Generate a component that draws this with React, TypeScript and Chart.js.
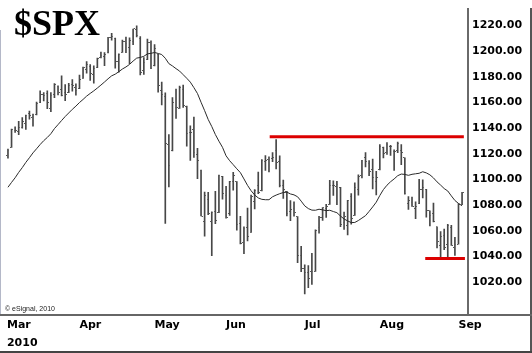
import { useEffect, useRef } from 'react';
import { Chart, registerables } from 'chart.js';

Chart.register(...registerables);

// Trading days Mar 4 2010 .. Sep 2 2010 (index 0..127)
const OPEN = [
  1119.1, 1125.1, 1138.4, 1137.6, 1140.2, 1144.0, 1151.7, 1148.5, 1150.8, 1159.9, 1166.1, 1166.7, 1155.4, 1166.5, 1172.7, 1170.0, 1167.6, 1167.7, 1173.8, 1171.8,
  1171.2, 1178.7, 1186.0, 1188.2, 1181.8, 1187.5, 1194.9, 1195.9, 1198.7, 1210.8, 1210.2, 1192.1, 1199.0, 1207.2, 1202.5, 1207.9, 1217.1, 1209.9, 1184.6, 1193.3, 1206.8,
  1188.6, 1197.5, 1169.2, 1164.4, 1127.0, 1122.3, 1156.4, 1155.4, 1170.0, 1157.2, 1136.5, 1138.8, 1119.6, 1107.3, 1067.3, 1084.8, 1067.4, 1075.5, 1074.3, 1102.6,
  1087.3, 1073.9, 1098.8, 1098.4, 1065.8, 1050.8, 1062.8, 1058.8, 1082.7, 1095.0, 1091.2, 1114.0, 1116.0, 1116.2, 1122.8, 1113.9, 1095.6, 1090.9, 1075.1, 1077.5, 1071.1, 1040.6,
  1031.1, 1027.7, 1028.1, 1028.5, 1062.9, 1070.5, 1077.2, 1080.7, 1095.6, 1094.5, 1093.9, 1066.9, 1064.5, 1086.7, 1072.1, 1092.2, 1102.9, 1117.4, 1112.8, 1108.1, 1098.4,
  1107.5, 1125.3, 1121.1, 1125.8, 1122.1, 1122.8, 1122.9, 1116.9, 1081.5, 1082.2, 1077.5, 1081.2, 1092.1, 1092.4, 1075.6, 1073.4, 1063.2, 1049.0, 1056.3, 1049.3, 1062.9, 1046.9,
  1049.7, 1080.7,
];
const HIGH = [
  1123.7, 1139.4, 1141.1, 1145.4, 1148.3, 1150.2, 1153.4, 1151.0, 1160.3, 1169.2, 1167.8, 1169.2, 1167.8, 1174.7, 1173.0, 1180.7, 1173.9, 1174.9, 1177.8, 1174.6,
  1181.4, 1187.7, 1191.8, 1189.6, 1188.6, 1194.7, 1199.2, 1199.0, 1210.7, 1213.9, 1210.2, 1197.9, 1208.6, 1211.0, 1210.3, 1217.3, 1219.8, 1211.4, 1195.1, 1209.4, 1208.0,
  1205.1, 1197.5, 1176.0, 1167.6, 1135.1, 1163.9, 1170.5, 1172.9, 1173.6, 1157.2, 1141.9, 1148.7, 1124.3, 1107.3, 1090.2, 1090.0, 1074.8, 1090.8, 1103.5, 1102.6,
  1094.8, 1098.6, 1105.7, 1098.4, 1071.4, 1063.2, 1077.7, 1087.9, 1092.3, 1105.9, 1115.6, 1118.7, 1117.7, 1121.0, 1131.2, 1118.5, 1099.6, 1090.9, 1083.6, 1082.6, 1071.1, 1048.1,
  1033.6, 1033.0, 1042.5, 1060.9, 1071.3, 1078.2, 1080.8, 1099.5, 1099.1, 1098.7, 1093.9, 1074.7, 1083.9, 1089.0, 1097.5, 1103.7, 1115.0, 1121.0, 1114.7, 1115.9, 1106.4,
  1127.3, 1125.4, 1128.8, 1126.6, 1123.1, 1129.2, 1127.2, 1116.9, 1086.7, 1086.3, 1082.6, 1100.1, 1099.8, 1092.4, 1075.6, 1081.6, 1063.2, 1059.4, 1061.5, 1065.2, 1064.4, 1055.1,
  1081.3, 1090.1,
];
const LOW = [
  1116.7, 1125.1, 1136.8, 1134.9, 1140.1, 1139.0, 1147.0, 1141.5, 1150.4, 1159.9, 1161.2, 1155.3, 1152.9, 1163.8, 1166.0, 1165.1, 1161.5, 1167.7, 1168.9, 1165.8,
  1170.7, 1178.7, 1182.8, 1177.3, 1175.1, 1187.2, 1194.7, 1188.8, 1198.7, 1208.5, 1186.8, 1183.7, 1199.0, 1198.9, 1190.2, 1205.1, 1211.1, 1181.6, 1181.8, 1193.3, 1186.3,
  1188.6, 1168.1, 1158.2, 1065.8, 1094.2, 1122.3, 1147.7, 1155.4, 1156.1, 1126.1, 1115.0, 1117.2, 1100.7, 1071.6, 1055.9, 1072.7, 1040.8, 1065.6, 1074.3, 1084.8,
  1069.9, 1072.0, 1091.8, 1060.5, 1049.9, 1042.2, 1052.3, 1058.8, 1077.1, 1089.0, 1091.2, 1107.1, 1105.9, 1113.9, 1108.2, 1094.2, 1085.3, 1071.6, 1067.9, 1071.5, 1035.2, 1028.3,
  1010.9, 1015.9, 1018.4, 1028.5, 1058.2, 1068.1, 1070.5, 1080.7, 1087.7, 1080.5, 1063.3, 1061.1, 1056.9, 1065.3, 1072.1, 1087.9, 1101.3, 1109.8, 1103.1, 1092.8, 1088.0,
  1107.5, 1116.8, 1119.5, 1118.8, 1107.2, 1120.9, 1111.6, 1088.6, 1076.7, 1079.0, 1069.5, 1081.2, 1085.8, 1070.7, 1063.9, 1067.1, 1046.7, 1039.8, 1045.4, 1039.7, 1048.8, 1040.9,
  1049.7, 1080.4,
];
const CLOSE = [
  1123.0, 1138.7, 1138.5, 1140.5, 1145.6, 1150.2, 1150.0, 1150.5, 1159.5, 1166.2, 1165.8, 1159.9, 1165.8, 1174.2, 1167.7, 1165.7, 1166.6, 1173.2, 1173.3, 1169.4,
  1178.1, 1187.4, 1189.4, 1182.5, 1186.4, 1194.4, 1196.5, 1197.3, 1210.7, 1211.7, 1192.1, 1197.5, 1207.2, 1205.9, 1208.7, 1217.3, 1212.1, 1183.7, 1191.4, 1206.8, 1186.7,
  1202.3, 1173.6, 1165.9, 1128.2, 1110.9, 1159.7, 1155.8, 1171.7, 1157.4, 1135.7, 1136.9, 1120.8, 1115.1, 1071.6, 1087.7, 1073.7, 1074.0, 1068.0, 1103.1, 1089.4,
  1070.7, 1098.4, 1102.8, 1064.9, 1050.5, 1062.0, 1055.7, 1086.8, 1091.6, 1089.6, 1115.2, 1114.6, 1116.0, 1117.5, 1113.2, 1095.3, 1092.0, 1073.7, 1076.8, 1074.6, 1041.2, 1030.7,
  1027.4, 1022.6, 1028.1, 1060.3, 1070.3, 1078.0, 1078.8, 1095.3, 1095.2, 1096.5, 1064.9, 1071.3, 1083.5, 1069.6, 1093.7, 1102.7, 1115.0, 1113.8, 1106.1, 1101.5, 1101.6,
  1125.9, 1120.5, 1127.2, 1125.8, 1121.6, 1127.8, 1121.1, 1089.5, 1083.6, 1079.3, 1079.4, 1092.5, 1094.2, 1075.6, 1071.7, 1067.4, 1051.9, 1055.3, 1047.2, 1064.6, 1048.9, 1049.3,
  1080.3, 1090.1,
];
// Moving average line
const MA = [
  1094.0, 1097.8, 1101.4, 1105.6, 1109.3, 1113.4, 1117.0, 1120.8, 1124.0, 1127.3, 1130.3, 1132.8, 1135.7, 1139.7, 1142.8, 1146.0, 1149.1, 1151.9, 1154.7, 1157.2,
  1160.0, 1162.4, 1165.0, 1167.1, 1169.1, 1171.3, 1173.6, 1176.0, 1178.5, 1180.8, 1182.1, 1184.0, 1186.1, 1187.7, 1189.7, 1192.3, 1194.6, 1195.1, 1196.0, 1197.9, 1198.3,
  1199.0, 1198.2, 1197.4, 1194.5, 1190.3, 1188.5, 1186.4, 1184.5, 1181.7, 1178.9, 1175.9, 1171.6, 1167.0, 1160.2, 1153.7, 1146.8, 1141.3, 1135.1, 1129.9, 1125.1,
  1118.5, 1114.7, 1111.6, 1108.4, 1105.4, 1100.5, 1095.5, 1091.3, 1088.0, 1085.7, 1084.6, 1084.3, 1084.3, 1086.6, 1087.9, 1089.0, 1089.9, 1090.2, 1088.8, 1088.1, 1086.6, 1083.2,
  1079.5, 1077.4, 1076.2, 1076.1, 1076.9, 1076.4, 1075.8, 1076.1, 1075.1, 1074.2, 1071.6, 1069.3, 1067.8, 1066.5, 1066.6, 1068.1, 1070.0, 1071.9, 1075.2, 1078.7, 1082.4,
  1087.6, 1092.2, 1095.6, 1098.3, 1100.5, 1103.0, 1104.3, 1104.0, 1103.3, 1104.1, 1104.5, 1104.9, 1106.1, 1105.2, 1103.7, 1101.3, 1098.2, 1095.7, 1093.0, 1091.1, 1087.3, 1083.7,
  1081.4, 1079.6,
];

const MONTHS = ['Mar', 'Apr', 'May', 'Jun', 'Jul', 'Aug', 'Sep'];
const MONTH_START = [-0.28, 20, 41, 61, 83, 104, 126];
const YEAR = '2010';
const Y_TICKS = [1020, 1040, 1060, 1080, 1100, 1120, 1140, 1160, 1180, 1200, 1220];

const RESISTANCE = 1133.3;
const RESISTANCE_SPAN = [73.2, 127.5];
const SUPPORT = 1038.5;
const SUPPORT_SPAN = [116.7, 127.8];

const X_MIN = -0.83;
const X_MAX = 128.66;
const Y_MIN = 995.3;
const Y_MAX = 1231.6;

const BAR_COLOR = '#474747';
const TICK_COLOR = '#5a5a5a';

export default function App() {
  const ref = useRef<HTMLCanvasElement>(null);

  useEffect(() => {
    document.body.style.margin = '0';
    const mkTick = (left: boolean) => {
      const c = document.createElement('canvas');
      c.width = 3;
      c.height = 1;
      const g = c.getContext('2d')!;
      g.fillStyle = TICK_COLOR;
      g.fillRect(left ? 0 : 2, 0, 1, 1);
      return c;
    };
    const openTick = mkTick(true);
    const closeTick = mkTick(false);

    const idx = HIGH.map((_, i) => i);
    const chart = new Chart(ref.current!, {
      type: 'bar',
      data: {
        datasets: [
          {
            type: 'line',
            data: [
              { x: RESISTANCE_SPAN[0], y: RESISTANCE },
              { x: RESISTANCE_SPAN[1], y: RESISTANCE },
            ],
            borderColor: '#dc0000',
            borderWidth: 3,
            pointRadius: 0,
            order: 0,
          } as any,
          {
            type: 'line',
            data: [
              { x: SUPPORT_SPAN[0], y: SUPPORT },
              { x: SUPPORT_SPAN[1], y: SUPPORT },
            ],
            borderColor: '#dc0000',
            borderWidth: 3,
            pointRadius: 0,
            order: 0,
          } as any,
          {
            type: 'line',
            data: idx.map((i) => ({ x: i, y: MA[i] })),
            borderColor: '#2a2a2a',
            borderWidth: 1,
            pointRadius: 0,
            tension: 0,
            order: 1,
          } as any,
          {
            type: 'line',
            data: idx.map((i) => ({ x: i, y: OPEN[i] })),
            showLine: false,
            pointStyle: openTick,
            pointRadius: 2,
            order: 2,
          } as any,
          {
            type: 'line',
            data: idx.map((i) => ({ x: i, y: CLOSE[i] })),
            showLine: false,
            pointStyle: closeTick,
            pointRadius: 2,
            order: 2,
          } as any,
          {
            type: 'bar',
            data: idx.map((i) => ({ x: i, y: [LOW[i], HIGH[i]] })),
            backgroundColor: BAR_COLOR,
            borderWidth: 0,
            barThickness: 1,
            order: 3,
          } as any,
        ],
      },
      options: {
        responsive: false,
        animation: false,
        devicePixelRatio: 1,
        layout: { padding: { top: 8, left: 0, right: 0, bottom: 0 } },
        plugins: { legend: { display: false }, tooltip: { enabled: false } },
        scales: {
          x: {
            type: 'linear',
            min: X_MIN,
            max: X_MAX,
            offset: false,
            grid: { display: false, drawTicks: false },
            border: { display: false },
            afterBuildTicks: (s: any) => {
              s.ticks = MONTH_START.map((v) => ({ value: v }));
            },
            afterFit: (s: any) => {
              s.height = 39;
            },
            ticks: {
              autoSkip: false,
              maxRotation: 0,
              minRotation: 0,
              align: 'start',
              padding: 2,
              color: '#000',
              font: { family: 'DejaVu Sans', weight: 'bold', size: 11, lineHeight: '18px' },
              callback: (_v: any, i: number) => (i === 0 ? [MONTHS[0], YEAR] : MONTHS[i]),
            },
          } as any,
          y: {
            type: 'linear',
            position: 'right',
            min: Y_MIN,
            max: Y_MAX,
            grid: { display: false, drawTicks: false },
            border: { display: false },
            afterBuildTicks: (s: any) => {
              s.ticks = Y_TICKS.map((v) => ({ value: v }));
            },
            afterFit: (s: any) => {
              s.width = 64;
            },
            ticks: {
              padding: 4,
              color: '#000',
              font: { family: 'DejaVu Sans', weight: 'bold', size: 11 },
              callback: (v: any) => Number(v).toFixed(2),
            },
          } as any,
        },
      },
    });
    return () => chart.destroy();
  }, []);

  const line = (s: React.CSSProperties) => (
    <div style={{ position: 'absolute', ...s }} />
  );

  return (
    <div style={{ position: 'relative', width: 532, height: 353, background: '#fff', overflow: 'hidden' }}>
      <canvas ref={ref} width={532} height={353} style={{ display: 'block' }} />
      <div
        style={{
          position: 'absolute',
          left: 14,
          top: 5,
          fontFamily: '"Liberation Serif", "Times New Roman", serif',
          fontWeight: 'bold',
          fontSize: 36,
          lineHeight: '36px',
          color: '#000',
          whiteSpace: 'nowrap',
        }}
      >
        $SPX
      </div>
      <div
        style={{
          position: 'absolute',
          left: 5,
          top: 305,
          fontFamily: '"Liberation Sans", Arial, sans-serif',
          fontSize: 7,
          lineHeight: '8px',
          color: '#222',
          whiteSpace: 'nowrap',
        }}
      >
        © eSignal, 2010
      </div>
      {line({ left: 0, top: 30, width: 1, height: 284, background: '#b4b8c8' })}
      {line({ left: 467, top: 8, width: 2, height: 306, background: '#6a6a6a' })}
      {line({ left: 530, top: 8, width: 2, height: 345, background: '#555' })}
      {line({ left: 0, top: 314, width: 532, height: 2, background: '#666' })}
      {line({ left: 0, top: 351, width: 532, height: 2, background: '#444' })}
    </div>
  );
}
